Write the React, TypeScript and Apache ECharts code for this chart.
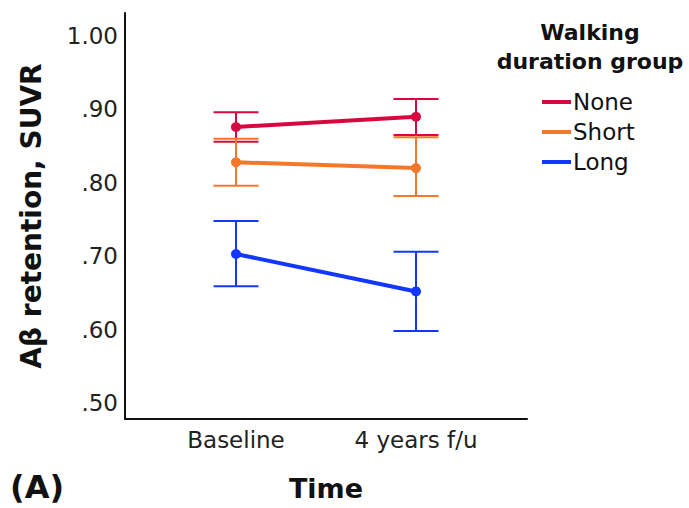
import React, { useEffect, useRef } from "react";
import * as echarts from "echarts";

const categories = ["Baseline", "4 years f/u"];
const groups = ["None", "Short", "Long"];
const colors = ["#d7083f", "#f5782a", "#1238ff"];

const noneMean = [0.876, 0.89];
const noneLow = [0.856, 0.865];
const noneHigh = [0.896, 0.914];

const shortMean = [0.828, 0.82];
const shortLow = [0.796, 0.782];
const shortHigh = [0.86, 0.862];

const longMean = [0.703, 0.652];
const longLow = [0.659, 0.598];
const longHigh = [0.748, 0.706];

const yTicks = [0.5, 0.6, 0.7, 0.8, 0.9, 1.0];

const FONT = "'DejaVu Sans', sans-serif";

export default function App() {
  const ref = useRef<HTMLDivElement>(null);

  useEffect(() => {
    if (!ref.current) return;
    const chart = echarts.init(ref.current, undefined, { renderer: "svg" });

    const means = [noneMean, shortMean, longMean];
    const lows = [noneLow, shortLow, longLow];
    const highs = [noneHigh, shortHigh, longHigh];

    const lineSeries = groups.map((g, i) => ({
      name: g,
      type: "line",
      data: means[i].map((v, j) => [j, v]),
      symbol: "circle",
      symbolSize: 10,
      lineStyle: { width: 4, color: colors[i] },
      itemStyle: { color: colors[i] },
      z: 5,
    }));

    const errSeries = groups.map((g, i) => ({
      name: g + " CI",
      type: "custom",
      data: lows[i].map((lo, j) => [j, lo, highs[i][j]]),
      z: 3,
      renderItem: (params: any, api: any) => {
        const x = api.value(0);
        const lo = api.coord([x, api.value(1)]);
        const hi = api.coord([x, api.value(2)]);
        const half = 22.5;
        const style = { stroke: colors[i], lineWidth: 2 };
        return {
          type: "group",
          children: [
            { type: "line", shape: { x1: lo[0], y1: lo[1], x2: hi[0], y2: hi[1] }, style },
            { type: "line", shape: { x1: lo[0] - half, y1: lo[1], x2: lo[0] + half, y2: lo[1] }, style },
            { type: "line", shape: { x1: hi[0] - half, y1: hi[1], x2: hi[0] + half, y2: hi[1] }, style },
          ],
        };
      },
    }));

    chart.setOption({
      animation: false,
      grid: { left: 125, top: 13, width: 402, height: 406, containLabel: false },
      xAxis: {
        type: "value",
        min: -0.6167,
        max: 1.6167,
        name: "Time",
        nameLocation: "middle",
        nameGap: 56,
        nameTextStyle: { fontFamily: FONT, fontSize: 27, fontWeight: "bold", color: "#111" },
        axisLine: { show: true, onZero: false, lineStyle: { color: "#111", width: 2 } },
        axisTick: { show: false },
        splitLine: { show: false },
        axisLabel: {
          customValues: [0, 1],
          formatter: (v: number) => categories[Math.round(v)] ?? "",
          fontFamily: FONT,
          fontSize: 23,
          color: "#222",
          margin: 9,
        },
      },
      yAxis: {
        type: "value",
        min: 0.4782,
        max: 1.0313,
        name: "Aβ retention, SUVR",
        nameLocation: "middle",
        nameGap: 80,
        nameRotate: 90,
        nameTextStyle: { fontFamily: FONT, fontSize: 28, fontWeight: "bold", color: "#111" },
        axisLine: { show: true, onZero: false, lineStyle: { color: "#111", width: 2 } },
        axisTick: { show: false },
        splitLine: { show: false },
        axisLabel: {
          customValues: yTicks,
          formatter: (v: number) => v.toFixed(2).replace(/^0/, ""),
          fontFamily: FONT,
          fontSize: 23,
          color: "#222",
          margin: 7,
        },
      },
      legend: {
        data: groups,
        orient: "vertical",
        left: 537,
        top: 82,
        icon: "rect",
        itemWidth: 29,
        itemHeight: 4,
        itemGap: 0,
        textStyle: { fontFamily: FONT, fontSize: 23, color: "#111", lineHeight: 30, padding: [0, 0, 0, -3] },
      },
      graphic: [
        {
          type: "text",
          x: 590,
          y: 18,
          style: {
            text: "Walking\nduration group",
            fontFamily: FONT,
            fontSize: 22,
            fontWeight: "bold",
            fill: "#111",
            align: "center",
            verticalAlign: "top",
            lineHeight: 29,
          },
        },
        {
          type: "text",
          x: 10,
          y: 487,
          style: {
            text: "(A)",
            fontFamily: FONT,
            fontSize: 32,
            fontWeight: "bold",
            fill: "#111",
            align: "left",
            verticalAlign: "middle",
          },
        },
      ],
      series: [...errSeries, ...lineSeries],
    });

    return () => chart.dispose();
  }, []);

  return (
    <div
      ref={ref}
      style={{ position: "absolute", left: 0, top: 0, width: 689, height: 508, background: "#fff" }}
    />
  );
}
